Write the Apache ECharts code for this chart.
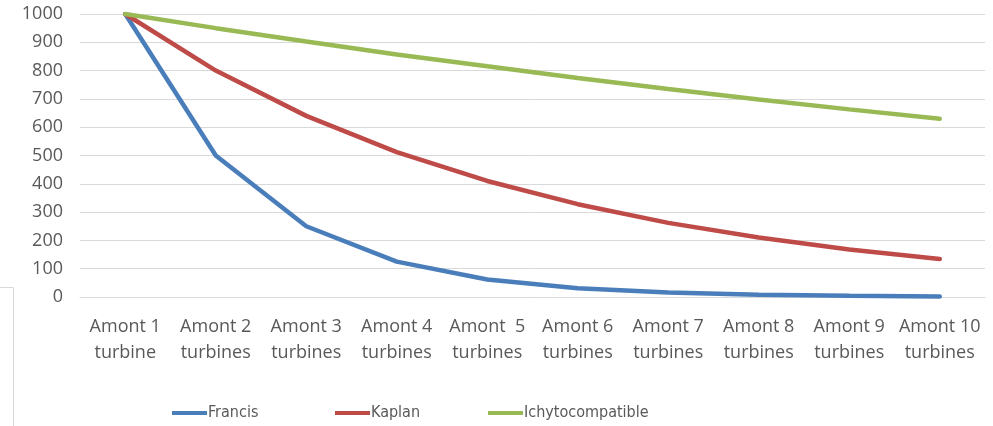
<!DOCTYPE html>
<html>
<head>
<meta charset="utf-8">
<script src="https://cdn.jsdelivr.net/npm/echarts@6/dist/echarts.min.js"></script>
<style>
  html, body { margin: 0; padding: 0; background: #ffffff; }
  #chart { width: 993px; height: 426px; }
</style>
</head>
<body>
<div id="chart"></div>
<script>
// categories on the x axis
const categories = [
  "Amont 1\nturbine", "Amont 2\nturbines", "Amont 3\nturbines", "Amont 4\nturbines",
  "Amont  5\nturbines", "Amont 6\nturbines", "Amont 7\nturbines", "Amont 8\nturbines",
  "Amont 9\nturbines", "Amont 10\nturbines"
];
// values
const francis = [1000, 500, 250, 125, 62, 31, 16, 8, 4, 2];
const kaplan = [1000, 800, 640, 512, 410, 328, 262, 210, 168, 134];
const ichty = [1000, 950, 903, 857, 815, 774, 735, 698, 663, 630];

const labelFont = "'Open Sans', 'Noto Sans', sans-serif";
const gray = "#595959";

let myChart = echarts.init(document.getElementById("chart"));

function legendAt(name, left) {
  return {
    data: [name],
    left: left,
    top: 405,
    padding: 0,
    icon: "rect",
    itemWidth: 35,
    itemHeight: 4,
    itemGap: 0,
    textStyle: {
      fontFamily: "'DejaVu Sans Condensed', 'Open Sans', sans-serif",
      fontSize: 16,
      color: gray,
      padding: [0, 0, 0, -4]
    }
  };
}

function lineSeries(name, data, color) {
  return {
    name: name,
    type: "line",
    data: data,
    symbol: "none",
    smooth: false,
    lineStyle: { width: 4.5, color: color, cap: "round" },
    itemStyle: { color: color }
  };
}

myChart.setOption({
  animation: false,
  grid: { left: 80, right: 8, top: 14, bottom: 129 },
  legend: [
    legendAt("Francis", 172),
    legendAt("Kaplan", 335),
    legendAt("Ichytocompatible", 488)
  ],
  xAxis: {
    type: "category",
    data: categories,
    boundaryGap: true,
    axisLine: { lineStyle: { color: "#d9d9d9" } },
    axisTick: { show: false },
    axisLabel: {
      interval: 0,
      margin: 17,
      fontFamily: labelFont,
      fontSize: 18,
      lineHeight: 26,
      color: gray
    }
  },
  yAxis: {
    type: "value",
    min: 0,
    max: 1000,
    interval: 100,
    axisLine: { show: false },
    axisTick: { show: false },
    splitLine: { lineStyle: { color: "#d9d9d9", width: 1 } },
    axisLabel: {
      margin: 17,
      fontFamily: labelFont,
      fontSize: 18,
      color: gray,
      formatter: function (v) { return String(v); }
    }
  },
  graphic: [
    {
      type: "polyline",
      silent: true,
      shape: { points: [[0, 287.5], [13.5, 287.5], [13.5, 426]] },
      style: { stroke: "#d9d9d9", lineWidth: 1, fill: null }
    }
  ],
  series: [
    lineSeries("Francis", francis, "#4a7ebb"),
    lineSeries("Kaplan", kaplan, "#be4b48"),
    lineSeries("Ichytocompatible", ichty, "#98b954")
  ]
});

window.addEventListener("resize", function () {
  myChart.resize();
});
</script>
</body>
</html>
